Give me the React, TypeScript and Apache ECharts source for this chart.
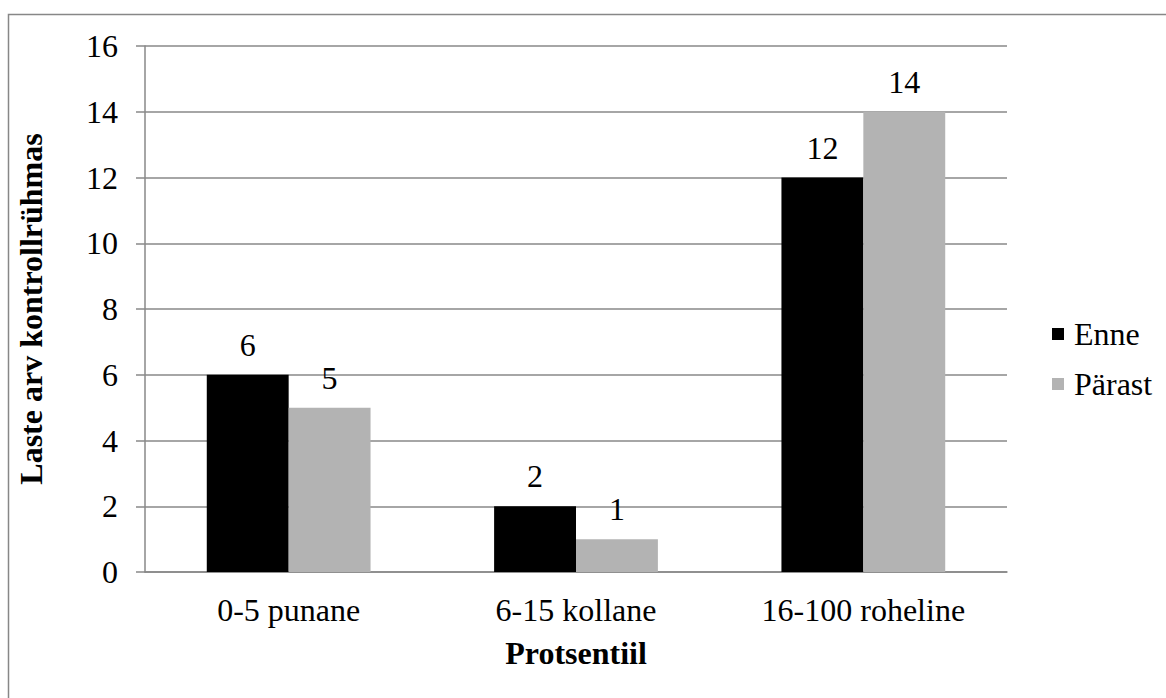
import React, { useEffect, useRef } from "react";
import * as echarts from "echarts";

const categories = ["0-5 punane", "6-15 kollane", "16-100 roheline"];
const enne = [6, 2, 12];
const parast = [5, 1, 14];
const seriesNames = ["Enne", "Pärast"];

const FONT = "'Times New Roman', Times, 'Liberation Serif', serif";
const SIZE = 32;

export default function App() {
  const ref = useRef<HTMLDivElement>(null);

  useEffect(() => {
    document.body.style.margin = "0";
    if (!ref.current) return;
    const chart = echarts.init(ref.current, null, { renderer: "svg" });
    const labelStyle = {
      show: true,
      position: "top" as const,
      distance: 14,
      color: "#000",
      fontFamily: FONT,
      fontSize: SIZE,
      fontWeight: "normal" as const,
    };
    chart.setOption({
      animation: false,
      backgroundColor: "#fff",
      textStyle: { fontFamily: FONT, fontSize: SIZE, fontWeight: "normal" },
      graphic: [
        {
          type: "rect",
          shape: { x: 8.5, y: 14.5, width: 1400, height: 1000 },
          style: { fill: "none", stroke: "#878787", lineWidth: 1.5 },
          silent: true,
        },
      ],
      grid: { left: 145, right: 159, top: 46, bottom: 126 },
      legend: {
        orient: "vertical",
        left: 1052,
        top: 318,
        padding: 0,
        itemWidth: 12,
        itemHeight: 12,
        itemGap: 18,
        icon: "rect",
        textStyle: {
          fontFamily: FONT,
          fontSize: SIZE,
          fontWeight: "normal",
          color: "#000",
          padding: [0, 0, 0, 5],
        },
        data: seriesNames,
      },
      xAxis: {
        type: "category",
        data: categories,
        name: "Protsentiil",
        nameLocation: "middle",
        nameGap: 65,
        nameMoveOverlap: false,
        nameTextStyle: { fontFamily: FONT, fontSize: SIZE, fontWeight: "bold", color: "#000" },
        axisLine: { lineStyle: { color: "#888", width: 1.5 } },
        axisTick: { show: false },
        axisLabel: { fontFamily: FONT, fontSize: SIZE, fontWeight: "normal", color: "#000", margin: 22 },
      },
      yAxis: {
        type: "value",
        min: 0,
        max: 16,
        interval: 2,
        name: "Laste arv kontrollrühmas",
        nameLocation: "middle",
        nameGap: 98,
        nameTextStyle: { fontFamily: FONT, fontSize: SIZE, fontWeight: "bold", color: "#000" },
        axisLine: { show: true, lineStyle: { color: "#888", width: 1.5 } },
        axisTick: { show: true, length: 9, lineStyle: { color: "#888", width: 1.5 } },
        axisLabel: { fontFamily: FONT, fontSize: SIZE, fontWeight: "normal", color: "#000", margin: 27 },
        splitLine: { lineStyle: { color: "#888", width: 1.5 } },
      },
      series: [
        {
          name: seriesNames[0],
          type: "bar",
          data: enne,
          barGap: "0%",
          barCategoryGap: "43%",
          itemStyle: { color: "#000" },
          label: labelStyle,
        },
        {
          name: seriesNames[1],
          type: "bar",
          data: parast,
          barGap: "0%",
          barCategoryGap: "43%",
          itemStyle: { color: "#b3b3b3" },
          label: labelStyle,
        },
      ],
    });
    return () => chart.dispose();
  }, []);

  return <div ref={ref} style={{ width: 1166, height: 698 }} />;
}
